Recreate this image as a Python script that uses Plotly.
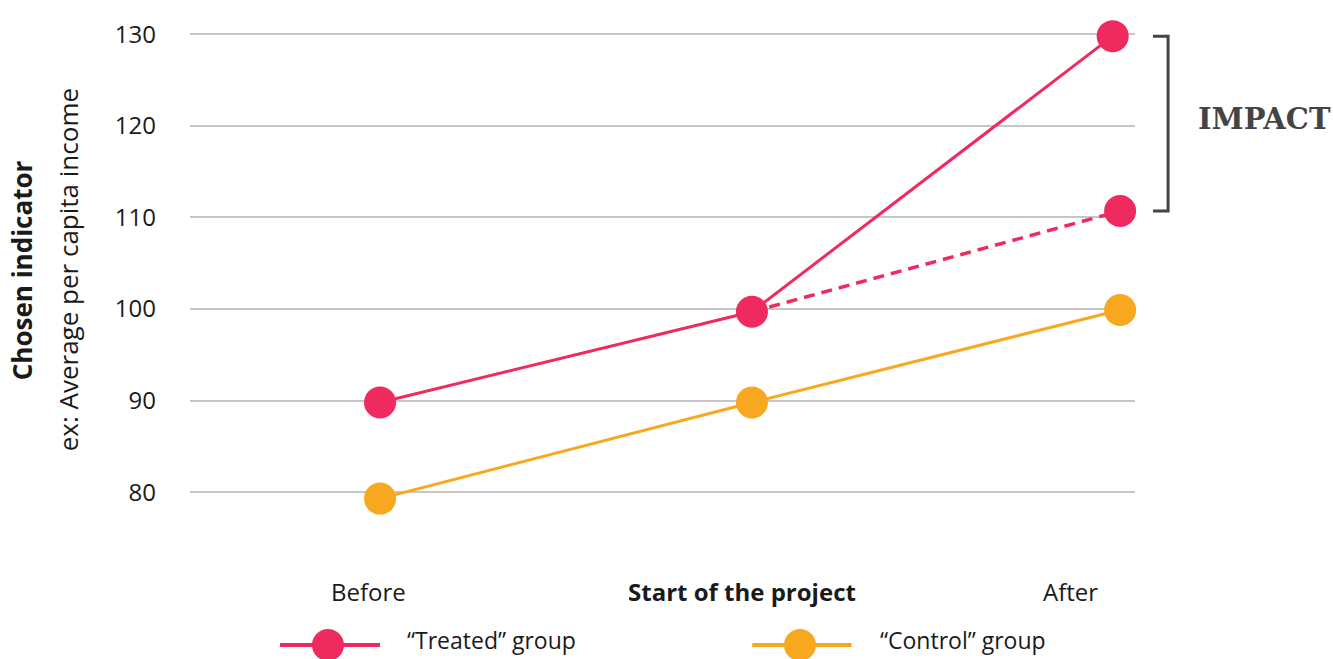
import plotly.graph_objects as go

# ---- data ----
periods = ["Before", "Start of the project", "After"]
treated_x = [0, 1, 1.97]
treated = [89.8, 99.7, 129.8]
counterfactual_x = [1, 1.99]
counterfactual = [99.7, 110.7]
control_x = [0, 1, 1.99]
control = [79.3, 89.8, 99.9]
y_ticks = [80, 90, 100, 110, 120, 130]
impact_label_y = 120.8

PINK = "#EE2A5E"
ORANGE = "#F7A81E"
FONT = "Open Sans"
TXT = "#1a1a1a"

fig = go.Figure()

fig.add_trace(go.Scatter(
    x=counterfactual_x, y=counterfactual, mode="lines",
    line=dict(color=PINK, width=3.5, dash="11px,7px"),
    cliponaxis=False, showlegend=False))
fig.add_trace(go.Scatter(
    x=counterfactual_x[1:], y=counterfactual[1:], mode="markers",
    marker=dict(size=32, color=PINK), cliponaxis=False, showlegend=False))
fig.add_trace(go.Scatter(
    x=control_x, y=control, mode="lines+markers",
    line=dict(color=ORANGE, width=3),
    marker=dict(size=32, color=ORANGE), cliponaxis=False, showlegend=False))
fig.add_trace(go.Scatter(
    x=treated_x, y=treated, mode="lines+markers",
    line=dict(color=PINK, width=3),
    marker=dict(size=32, color=PINK), cliponaxis=False, showlegend=False))

# x labels (placed under plot)
label_px = [0.1884, 0.584, 0.932]
for i, (lab, px) in enumerate(zip(periods, label_px)):
    fig.add_annotation(x=px, y=-0.1034, xref="paper", yref="paper",
                       text=("<b>%s</b>" % lab) if i == 1 else lab,
                       showarrow=False, xanchor="center", yanchor="middle",
                       font=dict(family=FONT, size=24, color=TXT))

# y axis title (two lines)
fig.add_annotation(x=-0.1778, y=0.513, xref="paper", yref="paper",
                   text="<b>Chosen indicator</b>", textangle=-90, showarrow=False,
                   xanchor="center", yanchor="middle",
                   font=dict(family=FONT, size=26, color=TXT))
fig.add_annotation(x=-0.129, y=0.513, xref="paper", yref="paper",
                   text="ex: Average per capita income", textangle=-90, showarrow=False,
                   xanchor="center", yanchor="middle",
                   font=dict(family=FONT, size=26, color=TXT))

# IMPACT bracket
x0b, x1b = 1.019, 1.035
fig.add_shape(type="path", xref="paper", yref="y",
              path=f"M {x0b},{treated[2]} L {x1b},{treated[2]} L {x1b},{counterfactual[1]} L {x0b},{counterfactual[1]}",
              line=dict(color="#444444", width=3))
fig.add_annotation(x=1.0645, y=impact_label_y, xref="paper", yref="y",
                   text="<b>IMPACT</b>", showarrow=False, xanchor="left", yanchor="middle",
                   font=dict(family="DejaVu Serif", size=29, color="#444444"))

# legend (manual)
leg_y = -0.205
leg_text_y = -0.196
for (lx0, lx1, mx, tx, col, txt) in [
        (0.0952, 0.201, 0.146, 0.2275, PINK, "\u201cTreated\u201d group"),
        (0.595, 0.700, 0.6455, 0.728, ORANGE, "\u201cControl\u201d group")]:
    fig.add_shape(type="line", xref="paper", yref="paper",
                  x0=lx0, x1=lx1, y0=leg_y, y1=leg_y, line=dict(color=col, width=4))
    fig.add_shape(type="circle", xref="paper", yref="paper",
                  xsizemode="pixel", ysizemode="pixel", xanchor=mx, yanchor=leg_y,
                  x0=-16, x1=16, y0=-16, y1=16, fillcolor=col, line=dict(width=0))
    fig.add_annotation(x=tx, y=leg_text_y, xref="paper", yref="paper", text=txt,
                       showarrow=False, xanchor="left", yanchor="middle",
                       font=dict(family=FONT, size=23, color=TXT))

fig.update_layout(
    width=1333, height=659,
    margin=dict(l=190, r=198, t=16, b=121),
    paper_bgcolor="white", plot_bgcolor="white",
    font=dict(family=FONT, size=24, color=TXT),
    showlegend=False,
)
fig.update_xaxes(range=[-0.511, 2.03], showgrid=False, zeroline=False,
                 showticklabels=False, showline=False)
fig.update_yaxes(range=[75, 132], tickvals=y_ticks, showgrid=True,
                 gridcolor="#C6C6C6", gridwidth=2, zeroline=False, showline=False,
                 ticklabelstandoff=33, tickfont=dict(family=FONT, size=24, color=TXT))

fig.write_html("out.html")
